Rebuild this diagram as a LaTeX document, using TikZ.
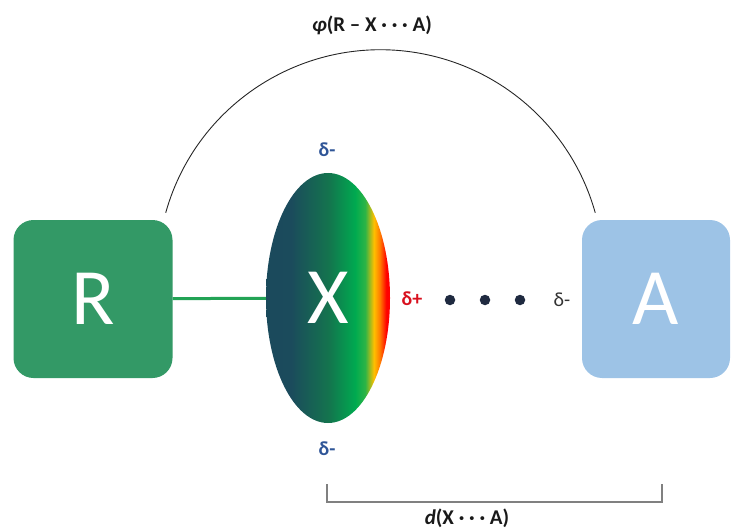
\documentclass[tikz,border=0pt]{standalone}
\usepackage{fontspec}
\setmainfont{Carlito}
\usetikzlibrary{shapes.geometric, positioning}

% --- Colours ---
\definecolor{rgreen}{HTML}{339966}
\definecolor{ablue}{HTML}{9DC3E6}
\definecolor{bondgreen}{HTML}{22A355}
\definecolor{deltablue}{HTML}{2F5597}
\definecolor{deltared}{HTML}{D8101E}
\definecolor{dotnavy}{HTML}{1F2A40}
\definecolor{bracketgray}{HTML}{808080}

% --- Sigma-hole gradient (left: negative, right: positive) ---
\pgfdeclarehorizontalshading{sigmahole}{100bp}{
    color(0bp)=(rgb,255:red,25;green,70;blue,90);
    color(35bp)=(rgb,255:red,27;green,75;blue,92);
    color(50bp)=(rgb,255:red,20;green,115;blue,78);
    color(61bp)=(rgb,255:red,0;green,170;blue,80);
    color(65bp)=(rgb,255:red,45;green,180;blue,70);
    color(68.5bp)=(rgb,255:red,255;green,192;blue,0);
    color(71bp)=(rgb,255:red,255;green,120;blue,0);
    color(73.5bp)=(rgb,255:red,255;green,0;blue,0);
    color(100bp)=(rgb,255:red,255;green,0;blue,0)
}

\begin{document}
\begin{tikzpicture}[
    x=1pt, y=-1pt,
    % --- Atom Boxes ---
    atom/.style={
        rounded corners=20pt,
        minimum height=158pt,
        inner sep=0pt,
        text=white,
        font=\fontsize{80}{80}\selectfont
    },
    % --- Halogen Ellipse ---
    halogen/.style={
        ellipse,
        shading=sigmahole,
        minimum width=124pt,
        minimum height=250pt,
        inner sep=0pt,
        text=white,
        font=\fontsize{80}{80}\selectfont
    },
    % --- Covalent Bond ---
    bond/.style={
        line width=3pt,
        color=bondgreen
    },
    % --- Partial Charges ---
    charge/.style={
        font=\fontsize{20}{20}\selectfont\bfseries
    },
    % --- Interaction Dots ---
    hole dot/.style={
        circle,
        fill=dotnavy,
        minimum size=10.5pt,
        inner sep=0pt
    },
    % --- Geometry Labels ---
    geo label/.style={
        font=\fontsize{21}{21}\selectfont\bfseries,
        text=black!90
    },
    angle arc/.style={
        line width=0.9pt,
        color=black!85
    },
    bracket/.style={
        line width=1.2pt,
        color=bracketgray
    }
]
    \useasboundingbox (0,0) rectangle (731,532);

    % =========================================
    % 1. ATOMS
    % =========================================

    % Donor atom R - Left
    \node[atom, fill=rgreen, minimum width=159pt] (R) at (93,299) {R};

    % Halogen X - Middle
    \node[halogen] (X) at (328,298) {X};

    % Acceptor A - Right
    \node[atom, fill=ablue, minimum width=148pt] (A) at (656,299) {A};

    % Bond R--X
    \draw[bond] (R) -- (X);

    % =========================================
    % 2. CHARGES AND INTERACTION
    % =========================================

    \node[charge, text=deltablue] (dtop) at (327,150) {δ-};
    \node[charge, text=deltablue] (dbot) at (327,449) {δ-};
    \node[charge, text=deltared] (dplus) at (412,299) {δ+};

    \node[hole dot] (dot1) at (450,300) {};
    \node[hole dot] (dot2) at (485,300) {};
    \node[hole dot] (dot3) at (520,300) {};

    \node[font=\fontsize{20}{20}\selectfont, text=black!80] (dminus) at (562,300) {δ-};

    % =========================================
    % 3. ANGLE AND DISTANCE
    % =========================================

    % Angle arc from R to A
    \draw[angle arc] ([shift={(-7,-7)}]R.north east)
        arc[start angle=-164.4, end angle=-15.6, radius=223];
    \node[geo label] (phi) at (372,25) {\textit{φ}(R – X · · · A)};

    % Distance bracket X...A
    \coordinate (xl) at (327,484);
    \coordinate (ar) at (662,484);
    \draw[bracket] (xl) -- ++(0,18) -| (ar);
    \node[geo label] (dist) at (467,518) {\textit{d}(X · · · A)};

\end{tikzpicture}
\end{document}
